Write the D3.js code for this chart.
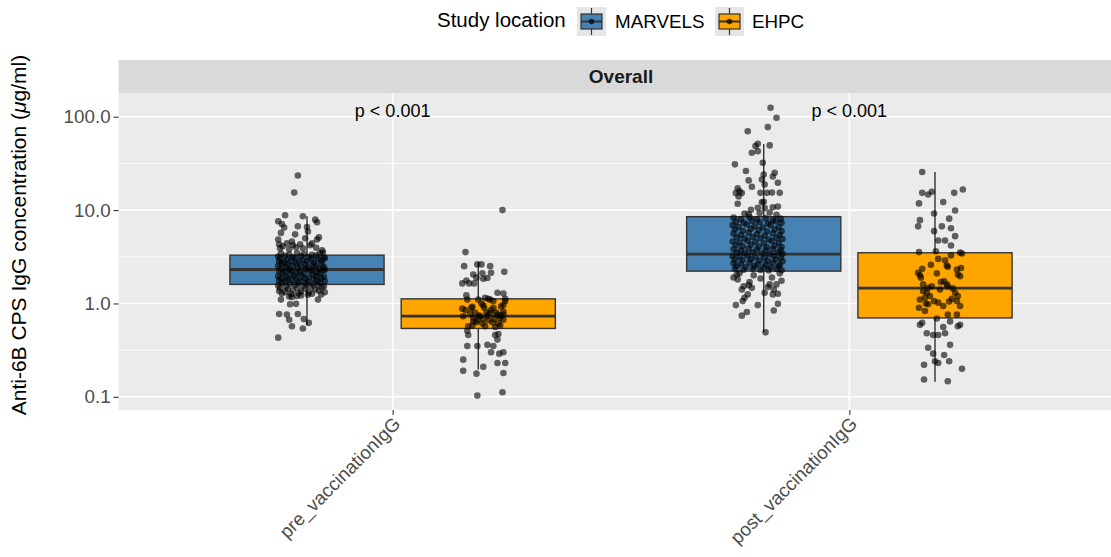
<!DOCTYPE html>
<html>
<head>
<meta charset="utf-8">
<script src="https://cdn.jsdelivr.net/npm/d3@7"></script>
<style>
  html, body { margin: 0; padding: 0; background: #ffffff; }
  svg { display: block; font-family: "Liberation Sans", Arial, Helvetica, sans-serif; }
</style>
</head>
<body>
<svg id="chart" width="1111" height="557"></svg>
<script>
// ---- data -------------------------------------------------------------
const categories = ["pre_vaccinationIgG", "post_vaccinationIgG"];
const locations = ["MARVELS", "EHPC"];
const locationColors = ["#4682B4", "#FFA500"];
const pLabels = ["p < 0.001", "p < 0.001"];
const yTicks = [0.1, 1, 10, 100];
const yMinorTicks = [0.316, 3.16, 31.6];

// box summaries, order: pre/MARVELS, pre/EHPC, post/MARVELS, post/EHPC
const boxGroupCategory = ["pre_vaccinationIgG", "pre_vaccinationIgG", "post_vaccinationIgG", "post_vaccinationIgG"];
const boxGroupLocation = ["MARVELS", "EHPC", "MARVELS", "EHPC"];
const boxLower  = [0.58, 0.196, 0.49, 0.145];
const boxQ1     = [1.60, 0.54, 2.22, 0.70];
const boxMedian = [2.31, 0.73, 3.37, 1.46];
const boxQ3     = [3.29, 1.12, 8.5, 3.49];
const boxUpper  = [8.6, 2.75, 51, 25.6];

// individual samples: [horizontal jitter (category units), IgG µg/ml]
const marvelsPre = [
  [-0.020, 23.5], [-0.028, 15.4], [-0.048, 8.8], [-0.009, 8.6], [-0.063, 7.6], [-0.055, 7.1],
  [0.018, 7.9], [0.022, 7.4], [-0.050, 6.5], [-0.020, 6.7], [0.000, 6.6], [-0.057, 5.7],
  [-0.026, 5.5], [0.002, 5.9], [-0.004, 5.0], [-0.063, 4.85], [-0.033, 4.6], [-0.044, 4.4],
  [0.022, 4.85], [0.026, 5.1], [0.011, 4.4], [-0.015, 4.3], [0.033, 3.7], [0.035, 3.5],
  [-0.059, 3.9], [-0.053, 4.1], [0.007, 4.2], [-0.024, 4.0], [-0.039, 3.8], [-0.009, 3.9],
  [0.020, 3.95], [-0.031, 4.2], [-0.061, 4.3],
  [-0.057, 3.42], [-0.039, 3.35], [-0.022, 3.47], [-0.007, 3.38], [0.011, 3.31], [0.028, 3.44],
  [-0.063, 3.18], [-0.048, 3.24], [-0.031, 3.12], [-0.013, 3.21], [0.004, 3.15], [0.020, 3.26], [0.037, 3.10],
  [-0.059, 3.02], [-0.044, 2.95], [-0.026, 3.05], [-0.009, 2.92], [0.009, 3.00], [0.024, 2.97], [0.039, 3.04],
  [-0.061, 2.82], [-0.050, 2.76], [-0.035, 2.85], [-0.018, 2.79], [0.000, 2.83], [0.015, 2.74], [0.031, 2.87],
  [-0.055, 2.66], [-0.042, 2.61], [-0.024, 2.69], [-0.004, 2.63], [0.013, 2.58], [0.033, 2.67],
  [-0.063, 2.52], [-0.046, 2.47], [-0.031, 2.55], [-0.013, 2.49], [0.002, 2.44], [0.020, 2.53], [0.037, 2.46],
  [-0.057, 2.37], [-0.039, 2.32], [-0.020, 2.39], [-0.002, 2.34], [0.011, 2.28], [0.026, 2.36], [0.039, 2.30],
  [-0.061, 2.22], [-0.048, 2.18], [-0.033, 2.24], [-0.015, 2.16], [0.007, 2.21], [0.022, 2.13], [0.035, 2.25],
  [-0.053, 2.10], [-0.037, 2.06], [-0.022, 2.12], [-0.007, 2.08], [0.013, 2.03], [0.028, 2.11],
  [-0.063, 1.96], [-0.046, 1.92], [-0.028, 1.98], [-0.011, 1.94], [0.004, 1.90], [0.020, 1.97], [0.037, 1.93],
  [-0.057, 1.86], [-0.042, 1.82], [-0.024, 1.88], [-0.004, 1.84], [0.015, 1.80], [0.031, 1.87],
  [-0.061, 1.76], [-0.048, 1.72], [-0.033, 1.78], [-0.015, 1.74], [0.002, 1.70], [0.022, 1.77], [0.039, 1.73],
  [-0.055, 1.66], [-0.037, 1.62], [-0.020, 1.68], [-0.002, 1.64], [0.013, 1.60], [0.028, 1.67],
  [-0.063, 1.56], [-0.046, 1.52], [-0.026, 1.58], [-0.009, 1.54], [0.009, 1.50], [0.024, 1.57], [0.037, 1.53],
  [-0.059, 1.46], [-0.042, 1.43], [-0.022, 1.48], [-0.004, 1.44], [0.018, 1.41], [0.033, 1.47],
  [-0.061, 1.36], [-0.048, 1.33], [-0.031, 1.38], [-0.013, 1.34], [0.004, 1.31], [0.026, 1.37], [0.039, 1.32],
  [-0.055, 1.28], [-0.035, 1.26], [-0.018, 1.29], [0.011, 1.27], [0.031, 1.25],
  [-0.039, 1.19], [-0.033, 1.17], [-0.022, 1.20], [-0.013, 1.22], [0.002, 1.24], [-0.057, 1.10],
  [0.024, 1.10], [-0.037, 0.98], [-0.024, 0.99], [-0.061, 0.77], [-0.044, 0.76], [-0.039, 0.67],
  [-0.020, 0.77], [-0.007, 0.68], [0.004, 0.62], [-0.033, 0.57], [-0.009, 0.54], [-0.063, 0.43]
];

const ehpcPre = [
  [0.053, 10.0], [-0.028, 3.55], [-0.031, 2.51], [-0.002, 2.62], [0.007, 2.62], [0.026, 2.51],
  [-0.011, 2.04], [0.009, 2.10], [0.028, 2.13], [0.057, 2.18], [-0.026, 1.76], [-0.004, 1.89],
  [0.011, 1.84], [0.020, 1.87], [-0.035, 1.64], [-0.020, 1.64], [-0.009, 1.64], [0.042, 1.30],
  [0.055, 1.28], [-0.026, 1.22], [-0.024, 1.10], [0.015, 1.15], [0.026, 1.10], [0.033, 1.06],
  [0.059, 1.06], [-0.035, 0.88], [-0.013, 0.92], [0.011, 0.95], [0.033, 0.90], [0.050, 0.93],
  [-0.033, 0.73], [-0.011, 0.70], [0.004, 0.73], [0.020, 0.74], [0.026, 0.79], [0.042, 0.76],
  [0.055, 0.76], [0.055, 0.67], [0.044, 0.61], [0.031, 0.63], [0.009, 0.61], [-0.004, 0.63],
  [-0.013, 0.58], [-0.022, 0.57], [-0.024, 0.51], [-0.022, 0.46], [0.037, 0.46], [0.044, 0.47],
  [0.042, 0.41], [-0.024, 0.35], [-0.002, 0.35], [0.020, 0.36], [0.033, 0.35], [0.028, 0.30],
  [0.046, 0.29], [0.055, 0.30], [-0.033, 0.25], [0.042, 0.23], [0.059, 0.23], [-0.033, 0.19],
  [-0.004, 0.177], [0.011, 0.21], [0.055, 0.18], [-0.002, 0.103], [0.053, 0.112],
  [-0.028, 0.85], [-0.015, 0.90], [0.000, 1.10], [0.007, 1.00], [0.018, 0.80], [0.028, 0.85],
  [0.039, 0.80], [0.048, 0.74], [0.055, 0.82], [0.002, 0.74], [0.011, 0.68], [0.022, 0.66],
  [0.035, 0.68], [0.048, 0.70], [-0.002, 0.66], [-0.011, 0.64], [0.015, 0.57], [0.037, 0.56],
  [0.048, 0.58], [0.022, 1.12], [0.059, 1.12], [0.055, 0.96], [-0.018, 0.78], [-0.007, 0.80],
  [0.013, 0.90]
];

const marvelsPost = [
  [0.015, 125], [0.028, 97.5], [0.009, 77.5], [-0.035, 70], [-0.013, 51.4], [-0.018, 48.5],
  [0.013, 49.3], [-0.026, 41.2], [-0.013, 42.8], [-0.063, 30.9], [-0.002, 32.2], [-0.039, 26.2],
  [0.024, 25.1], [0.000, 24.1], [0.020, 22.9], [-0.033, 20.8], [-0.004, 21.3], [0.031, 19.6],
  [-0.026, 17.8], [0.002, 18.8], [-0.057, 17.1], [-0.053, 15.9], [-0.048, 15.2], [-0.061, 15.2],
  [-0.007, 15.3], [0.007, 15.3], [0.018, 15.4], [0.035, 15.3], [-0.055, 14.0], [0.000, 12.3],
  [-0.004, 12.1], [-0.057, 11.7], [0.031, 10.9], [-0.013, 10.6], [0.002, 10.5], [0.020, 10.7],
  [-0.028, 10.1], [-0.042, 9.2], [-0.033, 9.0], [-0.009, 9.3], [0.013, 9.4], [0.028, 8.9],
  [-0.066, 8.3], [-0.050, 8.0], [-0.031, 8.4], [-0.015, 7.9], [0.004, 8.2], [0.020, 7.8], [0.037, 8.1],
  [-0.061, 7.5], [-0.044, 7.3], [-0.026, 7.7], [-0.009, 7.4], [0.009, 7.2], [0.026, 7.6], [0.039, 7.3],
  [-0.068, 6.9], [-0.055, 6.6], [-0.037, 7.0], [-0.020, 6.7], [-0.002, 6.5], [0.015, 6.9], [0.033, 6.6],
  [-0.063, 6.2], [-0.046, 6.0], [-0.028, 6.3], [-0.011, 6.1], [0.007, 5.9], [0.024, 6.2], [0.039, 5.95],
  [-0.066, 5.6], [-0.050, 5.4], [-0.033, 5.7], [-0.015, 5.5], [0.002, 5.3], [0.020, 5.6], [0.035, 5.4],
  [-0.059, 5.1], [-0.042, 4.95], [-0.024, 5.15], [-0.007, 5.0], [0.011, 4.85], [0.028, 5.05], [0.041, 4.9],
  [-0.068, 4.6], [-0.053, 4.5], [-0.035, 4.7], [-0.018, 4.55], [0.000, 4.4], [0.018, 4.65], [0.033, 4.45],
  [-0.061, 4.2], [-0.046, 4.1], [-0.028, 4.25], [-0.011, 4.05], [0.007, 4.0], [0.024, 4.15], [0.039, 4.02],
  [-0.066, 3.8], [-0.050, 3.72], [-0.033, 3.85], [-0.015, 3.75], [0.004, 3.68], [0.020, 3.82], [0.037, 3.7],
  [-0.059, 3.5], [-0.042, 3.45], [-0.024, 3.55], [-0.004, 3.42], [0.013, 3.38], [0.031, 3.52], [0.041, 3.4],
  [-0.068, 3.2], [-0.053, 3.15], [-0.035, 3.25], [-0.018, 3.12], [0.002, 3.1], [0.022, 3.22], [0.037, 3.08],
  [-0.063, 2.95], [-0.046, 2.9], [-0.028, 2.98], [-0.009, 2.88], [0.009, 2.86], [0.026, 2.96], [0.041, 2.84],
  [-0.066, 2.7], [-0.050, 2.66], [-0.031, 2.74], [-0.013, 2.64], [0.004, 2.62], [0.020, 2.72], [0.035, 2.6],
  [-0.059, 2.5], [-0.039, 2.46], [-0.020, 2.52], [0.000, 2.44], [0.015, 2.42], [0.033, 2.5],
  [-0.063, 2.35], [-0.044, 2.3], [-0.024, 2.36], [-0.007, 2.28], [0.011, 2.26], [0.028, 2.34], [0.039, 2.27],
  [-0.059, 2.04], [-0.057, 1.81], [-0.044, 1.53], [-0.033, 1.57], [-0.026, 1.47], [-0.048, 1.41],
  [0.013, 1.60], [0.009, 1.50], [0.028, 1.60], [0.022, 1.41], [0.031, 1.27], [0.020, 1.25],
  [0.002, 1.30], [-0.035, 1.25], [-0.042, 1.15], [-0.046, 1.06], [-0.061, 0.96], [-0.013, 0.96],
  [0.031, 0.99], [0.022, 0.84], [-0.048, 0.74], [-0.037, 0.81], [0.004, 0.49],
  [-0.053, 2.10], [-0.022, 2.00], [0.018, 1.90], [0.035, 2.10], [-0.007, 1.85], [0.039, 1.75],
  [-0.066, 1.90], [-0.031, 1.70]
];

const ehpcPost = [
  [-0.028, 25.6], [-0.028, 15.3], [-0.015, 14.7], [-0.007, 15.7], [0.042, 15.3], [0.061, 16.6],
  [-0.035, 11.8], [0.018, 12.2], [0.044, 9.9], [-0.002, 9.2], [-0.033, 7.8], [-0.037, 6.7],
  [0.031, 8.1], [0.015, 6.7], [0.035, 6.4], [-0.002, 5.95], [0.044, 5.26], [0.007, 4.73],
  [0.022, 4.73], [0.035, 4.18], [-0.035, 3.55], [0.002, 3.63], [0.055, 3.50], [0.059, 3.43],
  [0.035, 3.27], [0.007, 3.00], [0.026, 2.55], [0.028, 2.47], [0.048, 2.31], [-0.028, 2.35],
  [-0.037, 2.13], [-0.033, 2.00], [-0.031, 1.89], [0.004, 2.10], [0.055, 1.96], [0.050, 2.04],
  [0.020, 1.73], [0.026, 1.60], [0.028, 1.53], [-0.026, 1.60], [-0.015, 1.47], [-0.007, 1.53],
  [0.011, 1.41], [-0.011, 1.20], [-0.022, 1.15], [-0.033, 1.10], [-0.002, 1.06], [0.007, 1.02],
  [-0.015, 0.98], [0.018, 0.94], [0.037, 1.12], [0.050, 1.20], [0.055, 0.94], [0.048, 1.06],
  [-0.035, 0.90], [-0.022, 0.83], [0.028, 0.76], [0.048, 0.76], [0.004, 0.69], [-0.028, 0.62],
  [-0.033, 0.59], [0.033, 0.64], [0.050, 0.57], [0.055, 0.59], [0.018, 0.56], [-0.018, 0.48],
  [-0.004, 0.46], [0.007, 0.46], [0.022, 0.48], [0.033, 0.36], [-0.015, 0.335], [-0.004, 0.29],
  [0.020, 0.28], [0.000, 0.24], [0.007, 0.23], [0.031, 0.24], [-0.024, 0.22], [0.059, 0.20],
  [-0.024, 0.153], [0.028, 0.147],
  [-0.026, 1.35], [-0.018, 1.30], [0.013, 1.70], [0.039, 1.45], [0.044, 1.30], [-0.009, 2.60],
  [0.022, 2.90], [0.057, 2.40], [-0.020, 1.00], [0.031, 1.05]
];

const pointGroups = [marvelsPre, ehpcPre, marvelsPost, ehpcPost];

// ---- layout -----------------------------------------------------------
const svg = d3.select("#chart");
const W = 1111, H = 557;
const panel = { left: 118.6, right: 1123.4, top: 93.3, bottom: 410 };
const stripTop = 60;

svg.append("rect").attr("width", W).attr("height", H).attr("fill", "#ffffff");

// ---- scales -----------------------------------------------------------
const x = d3.scalePoint().domain(categories).range([panel.left, panel.right]).padding(0.6);
const step = x.step();
const dodge = d3.scaleBand().domain(locations).range([-0.375 * step, 0.375 * step]);
const boxWidth = dodge.bandwidth() * 0.9;
const dodgeCenter = loc => dodge(loc) + dodge.bandwidth() / 2;
const color = d3.scaleOrdinal().domain(locations).range(locationColors);

// log axis spans the data with 5% expansion in log space
const allValues = pointGroups.flat().map(d => d[1]);
const logExt = d3.extent(allValues, v => Math.log10(v));
const pad = (logExt[1] - logExt[0]) * 0.05;
const y = d3.scaleLog()
  .domain([Math.pow(10, logExt[0] - pad), Math.pow(10, logExt[1] + pad)])
  .range([panel.bottom, panel.top]);

// ---- panel & strip ----------------------------------------------------
svg.append("rect")
  .attr("x", panel.left).attr("y", panel.top)
  .attr("width", panel.right - panel.left).attr("height", panel.bottom - panel.top)
  .attr("fill", "#EBEBEB");

svg.append("rect")
  .attr("x", panel.left).attr("y", stripTop)
  .attr("width", panel.right - panel.left).attr("height", panel.top - stripTop)
  .attr("fill", "#D9D9D9");

svg.append("text")
  .attr("x", (panel.left + panel.right) / 2).attr("y", (stripTop + panel.top) / 2)
  .attr("dy", "0.36em")
  .attr("text-anchor", "middle")
  .attr("font-size", 19).attr("font-weight", "bold").attr("fill", "#1A1A1A")
  .text("Overall");

const grid = svg.append("g");
grid.selectAll(".minor").data(yMinorTicks).join("line")
  .attr("x1", panel.left).attr("x2", panel.right)
  .attr("y1", d => y(d)).attr("y2", d => y(d))
  .attr("stroke", "#ffffff").attr("stroke-width", 0.8);
grid.selectAll(".major").data(yTicks).join("line")
  .attr("x1", panel.left).attr("x2", panel.right)
  .attr("y1", d => y(d)).attr("y2", d => y(d))
  .attr("stroke", "#ffffff").attr("stroke-width", 1.6);
grid.selectAll(".vmajor").data(categories).join("line")
  .attr("x1", d => x(d)).attr("x2", d => x(d))
  .attr("y1", panel.top).attr("y2", panel.bottom)
  .attr("stroke", "#ffffff").attr("stroke-width", 1.6);

// ---- boxplots ---------------------------------------------------------
const boxes = boxLower.map((lo, i) => ({
  cx: x(boxGroupCategory[i]) + dodgeCenter(boxGroupLocation[i]),
  loc: boxGroupLocation[i],
  lo, q1: boxQ1[i], med: boxMedian[i], q3: boxQ3[i], hi: boxUpper[i]
}));

const boxG = svg.append("g");
boxes.forEach(b => {
  const g = boxG.append("g");
  g.append("line")
    .attr("x1", b.cx).attr("x2", b.cx).attr("y1", y(b.q3)).attr("y2", y(b.hi))
    .attr("stroke", "#333333").attr("stroke-width", 1.4);
  g.append("line")
    .attr("x1", b.cx).attr("x2", b.cx).attr("y1", y(b.q1)).attr("y2", y(b.lo))
    .attr("stroke", "#333333").attr("stroke-width", 1.4);
  g.append("rect")
    .attr("x", b.cx - boxWidth / 2).attr("width", boxWidth)
    .attr("y", y(b.q3)).attr("height", y(b.q1) - y(b.q3))
    .attr("fill", color(b.loc)).attr("stroke", "#333333").attr("stroke-width", 1.4);
  g.append("line")
    .attr("x1", b.cx - boxWidth / 2).attr("x2", b.cx + boxWidth / 2)
    .attr("y1", y(b.med)).attr("y2", y(b.med))
    .attr("stroke", "#333333").attr("stroke-width", 2.8);
});

// ---- jittered points --------------------------------------------------
const ptG = svg.append("g");
pointGroups.forEach((pts, i) => {
  const cx = x(boxGroupCategory[i]) + dodgeCenter(boxGroupLocation[i]);
  ptG.selectAll(null).data(pts).join("circle")
    .attr("cx", d => cx + d[0] * step)
    .attr("cy", d => y(d[1]))
    .attr("r", 3.3)
    .attr("fill", "#000000").attr("fill-opacity", 0.6);
});

// ---- p-value labels ---------------------------------------------------
svg.selectAll(".pval").data(categories).join("text")
  .attr("x", d => x(d)).attr("y", 117)
  .attr("text-anchor", "middle").attr("font-size", 18).attr("fill", "#000000")
  .text((d, i) => pLabels[i]);

// ---- axes -------------------------------------------------------------
const yAxis = svg.append("g")
  .attr("transform", `translate(${panel.left},0)`)
  .call(d3.axisLeft(y).tickValues(yTicks).tickFormat(d3.format(".1f")).tickSize(5).tickPadding(3));
yAxis.select(".domain").remove();
yAxis.selectAll(".tick line").attr("stroke", "#333333").attr("stroke-width", 1.1);
yAxis.selectAll(".tick text")
  .attr("font-size", 18.8).attr("fill", "#4D4D4D")
  .attr("font-family", "Liberation Sans, Arial, sans-serif");

const xAxis = svg.append("g")
  .attr("transform", `translate(0,${panel.bottom})`)
  .call(d3.axisBottom(x).tickSize(5).tickFormat(() => ""));
xAxis.select(".domain").remove();
xAxis.selectAll(".tick line").attr("stroke", "#333333").attr("stroke-width", 1.1);

svg.selectAll(".xlab").data(categories).join("text")
  .attr("transform", d => `translate(${x(d) + 9},${panel.bottom + 15}) rotate(-45)`)
  .attr("text-anchor", "end")
  .attr("font-size", 18.8).attr("fill", "#4D4D4D")
  .text(d => d);

// y axis title with italic mu
const yTitle = svg.append("text")
  .attr("transform", `translate(26,${(stripTop + panel.bottom) / 2}) rotate(-90)`)
  .attr("text-anchor", "middle")
  .attr("font-size", 21).attr("fill", "#000000");
yTitle.append("tspan").text("Anti-6B CPS IgG concentration (");
yTitle.append("tspan").attr("font-style", "italic").text("\u03BC");
yTitle.append("tspan").text("g/ml)");

// ---- legend -----------------------------------------------------------
const legend = svg.append("g");
legend.append("text")
  .attr("x", 437).attr("y", 27)
  .attr("font-size", 20.5).attr("fill", "#000000")
  .text("Study location");

const keyX = [577, 715];
const labelX = [615, 752];
locations.forEach((loc, i) => {
  const kx = keyX[i], ky = 7, ks = 29;
  const k = legend.append("g");
  k.append("rect").attr("x", kx).attr("y", ky).attr("width", ks).attr("height", ks).attr("fill", "#E6E6E6");
  const cx = kx + ks / 2, cy = ky + ks / 2;
  k.append("line").attr("x1", cx).attr("x2", cx).attr("y1", ky + 1).attr("y2", ky + ks - 1)
    .attr("stroke", "#333333").attr("stroke-width", 1.2);
  k.append("rect").attr("x", kx + 4).attr("y", ky + 7).attr("width", ks - 8).attr("height", ks - 14)
    .attr("fill", color(loc)).attr("stroke", "#333333").attr("stroke-width", 1.2);
  k.append("line").attr("x1", kx + 4).attr("x2", kx + ks - 4).attr("y1", cy).attr("y2", cy)
    .attr("stroke", "#333333").attr("stroke-width", 2);
  k.append("circle").attr("cx", cx).attr("cy", cy).attr("r", 2.8).attr("fill", "#000000").attr("fill-opacity", 0.7);
  legend.append("text")
    .attr("x", labelX[i]).attr("y", 28)
    .attr("font-size", 18.8).attr("fill", "#000000")
    .text(loc);
});
</script>
</body>
</html>
